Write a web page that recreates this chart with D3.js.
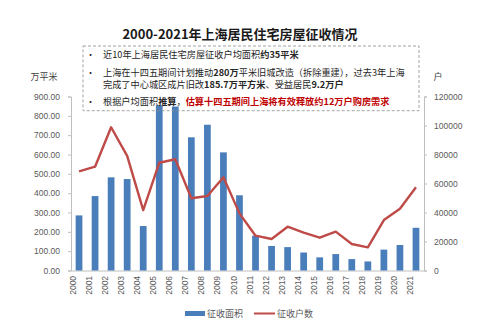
<!DOCTYPE html>
<html><head><meta charset="utf-8">
<script src="https://cdn.jsdelivr.net/npm/d3@7"></script>
<style>body{margin:0;background:#fff}svg{display:block}</style>
</head><body>
<script>
const years = ["2000","2001","2002","2003","2004","2005","2006","2007","2008","2009","2010","2011","2012","2013","2014","2015","2016","2017","2018","2019","2020","2021"];
const areaValues = [285,385,482,473,230,855,848,689,754,611,389,180,127,121,93,68,85,59,47,108,132,221];
const householdValues = [68400,71600,98800,79000,41700,74300,76700,49800,51400,64300,39400,24000,21700,30200,26100,22600,26800,18300,16000,34800,42600,57400];
const leftTicks = [0,100,200,300,400,500,600,700,800,900];
const rightTicks = [0,20000,40000,60000,80000,100000,120000];
const titleText = "2000-2021年上海居民住宅房屋征收情况";
const seriesNames = ["征收面积","征收户数"];
const noteLines = [
  [{t:"近10年上海居民住宅房屋征收户均面积"},{t:"约35平米",b:1}],
  [{t:"上海在十四五期间计划推动"},{t:"280万",b:1},{t:"平米旧城改造（拆除重建），过去3年上海"}],
  [{t:"完成了中心城区成片旧改"},{t:"185.7万平方米",b:1},{t:"、受益居民"},{t:"9.2万户",b:1}],
  [{t:"根据户均面积"},{t:"推算",b:1},{t:"，"},{t:"估算十四五期间上海将有效释放约12万户购房需求",b:1,r:1}]
];

const W=499,H=334;
const svg=d3.select("body").append("svg").attr("width",W).attr("height",H);
const font="'Noto Sans CJK SC','Noto Sans',sans-serif";
const numFont="'Liberation Sans','Noto Sans',sans-serif";

const x=d3.scaleBand().domain(years).range([71,424]).paddingInner(0.58).paddingOuter(0.29);
const yL=d3.scaleLinear().domain([0,900]).range([270.5,96.5]);
const yR=d3.scaleLinear().domain([0,120000]).range([270.5,96.5]);

// title
svg.append("text").attr("x",240).attr("y",38.5).attr("text-anchor","middle")
  .attr("font-family",font).attr("font-weight","bold").attr("font-size",13).attr("fill","#1a1a1a").text(titleText);

// axes
const gL=svg.append("g").attr("transform","translate(71,0)")
  .call(d3.axisLeft(yL).tickValues(leftTicks).tickSize(3).tickPadding(8).tickFormat(d=>d3.format(".2f")(d)));
const gR=svg.append("g").attr("transform","translate(424,0)")
  .call(d3.axisRight(yR).tickValues(rightTicks).tickSize(3).tickPadding(7).tickFormat(d3.format("d")));
const gX=svg.append("g").attr("transform","translate(0,270.5)")
  .call(d3.axisBottom(x).tickSize(0).tickPadding(5));
[gL,gR,gX].forEach(g=>{
  g.selectAll("path,line").attr("stroke","#bfbfbf");
  g.selectAll("text").attr("font-family",numFont).attr("font-size",8.5).attr("fill","#595959");
});
gX.selectAll("text").attr("transform","rotate(-90)").attr("text-anchor","end")
  .attr("dx","-0.4em").attr("dy","-0.35em").attr("x",-2).attr("y",0);

// axis unit labels
svg.append("text").attr("x",44).attr("y",79.5).attr("text-anchor","middle").attr("font-family",font).attr("font-size",9).attr("fill","#404040").text("万平米");
svg.append("text").attr("x",438).attr("y",79.5).attr("text-anchor","middle").attr("font-family",font).attr("font-size",9).attr("fill","#404040").text("户");

// bars
svg.append("g").selectAll("rect").data(years).join("rect")
  .attr("x",d=>x(d)).attr("width",x.bandwidth())
  .attr("y",(d,i)=>yL(areaValues[i])).attr("height",(d,i)=>yL(0)-yL(areaValues[i]))
  .attr("fill","#4a7ebb");

// line
const line=d3.line().x((d,i)=>x(years[i])+x.bandwidth()/2).y(d=>yR(d));
svg.append("path").datum(householdValues).attr("d",line).attr("fill","none")
  .attr("stroke","#be4b48").attr("stroke-width",2.4).attr("stroke-linejoin","round");

// note box
svg.append("rect").attr("x",83).attr("y",46).attr("width",336).attr("height",64.7)
  .attr("fill","none").attr("stroke","#8c8c8c").attr("stroke-width",0.8).attr("stroke-dasharray","3,2");
const lineY=[57.5,75.5,87.5,104.5];
const bulletIdx=[0,1,3];
bulletIdx.forEach(i=>{
  svg.append("text").attr("x",90.5).attr("y",lineY[i]).attr("text-anchor","middle").attr("font-family",font).attr("font-size",9).attr("fill","#262626").text("•");
});
noteLines.forEach((segs,i)=>{
  const t=svg.append("text").attr("x",103).attr("y",lineY[i]).attr("font-family",font).attr("font-size",9.2).attr("fill","#262626");
  segs.forEach(s=>{
    t.append("tspan").attr("font-weight",s.b?"bold":"normal").attr("fill",s.r?"#c00000":"#262626").text(s.t);
  });
});

// legend
svg.append("rect").attr("x",185).attr("y",311).attr("width",20).attr("height",5).attr("fill","#4a7ebb");
svg.append("text").attr("x",207).attr("y",317).attr("font-family",font).attr("font-size",9).attr("fill","#595959").text(seriesNames[0]);
svg.append("line").attr("x1",254).attr("x2",275).attr("y1",313.5).attr("y2",313.5).attr("stroke","#be4b48").attr("stroke-width",2);
svg.append("text").attr("x",277).attr("y",317).attr("font-family",font).attr("font-size",9).attr("fill","#595959").text(seriesNames[1]);
</script>
</body></html>
